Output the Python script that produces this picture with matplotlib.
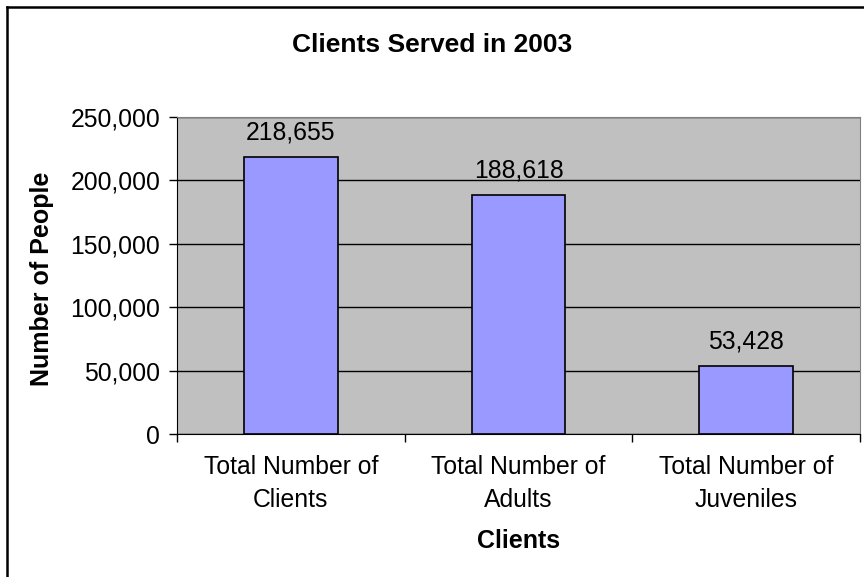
import matplotlib.pyplot as plt
from matplotlib.lines import Line2D
from matplotlib.ticker import FuncFormatter, FixedLocator

# chart data
categories = ['Total Number of\nClients', 'Total Number of\nAdults', 'Total Number of\nJuveniles']
values = [218655, 188618, 53428]
yticks = [0, 50000, 100000, 150000, 200000, 250000]

plt.rcParams['font.family'] = ['Liberation Sans', 'DejaVu Sans']

fig = plt.figure(figsize=(8.64, 5.77), dpi=100)
ax = fig.add_axes([177 / 864, 1 - 434 / 577, 683 / 864, 317 / 577])

ax.set_facecolor('#C0C0C0')
ax.set_axisbelow(True)
ax.yaxis.grid(True, color='black', linewidth=1)

x = range(len(categories))
ax.bar(x, values, width=0.41, color='#9999FF', edgecolor='black', linewidth=1.2, zorder=3)

for i, v in enumerate(values):
    ax.annotate(f'{v:,}', (i, v), xytext=(0, 9), textcoords='offset points',
                ha='center', va='bottom', fontsize=17.8)

ax.set_xlim(-0.5, 2.5)
ax.set_ylim(0, 250000)
ax.set_yticks(yticks)
ax.yaxis.set_major_formatter(FuncFormatter(lambda v, p: f'{int(v):,}'))
ax.tick_params(axis='y', labelsize=17.8, length=6, width=1, pad=6, direction='out')

# category labels centered, ticks at the boundaries
ax.set_xticks(list(x))
ax.set_xticklabels(categories, fontsize=17.8, linespacing=1.5)
ax.tick_params(axis='x', which='major', length=0, pad=15)
ax.xaxis.set_minor_locator(FixedLocator([-0.5, 0.5, 1.5, 2.5]))
ax.tick_params(axis='x', which='minor', length=6, width=1, direction='out')

for s in ['top', 'right']:
    ax.spines[s].set_color('#808080')
for s in ['left', 'bottom']:
    ax.spines[s].set_color('black')

ax.set_ylabel('Number of People', fontsize=18, fontweight='bold')
ax.yaxis.set_label_coords(-0.18, 0.49)
ax.set_xlabel('Clients', fontsize=18, fontweight='bold')
ax.xaxis.set_label_coords(0.5, -0.3)

fig.text(0.5, 1 - 45 / 577, 'Clients Served in 2003', ha='center', va='center',
         fontsize=19, fontweight='bold')

# outer chart border (runs off the right and bottom edge)
bx, by = 7 / 864, 1 - 7 / 577
fig.add_artist(Line2D([bx, bx], [by, -0.1], color='black', linewidth=1.8))
fig.add_artist(Line2D([bx, 1.1], [by, by], color='black', linewidth=1.8))

fig.savefig('out.png', dpi=100)
